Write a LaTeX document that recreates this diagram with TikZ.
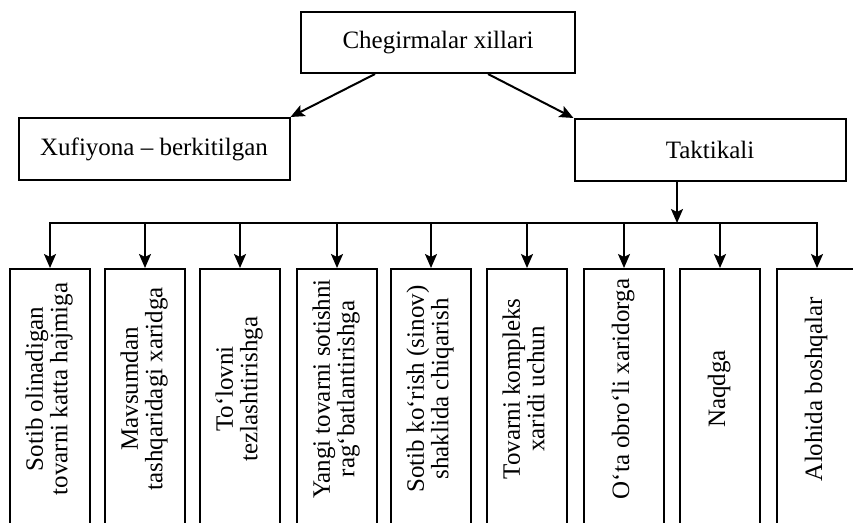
\documentclass[tikz,border=0pt]{standalone}
\usepackage{fontspec}
\setmainfont{Liberation Serif}
\usetikzlibrary{arrows.meta}
\newcommand{\rottext}[1]{\hspace*{60pt}\begin{tabular}{@{}c@{}}#1\end{tabular}}
\begin{document}
\begin{tikzpicture}[x=1pt,y=-1pt,
  txt/.style={font=\fontsize{25}{23.5}\selectfont},
  box/.style={draw, line width=2pt, txt, inner sep=0pt},
  topbox/.style={box, minimum width=274pt, minimum height=61pt},
  sidebox/.style={box, minimum width=271pt, minimum height=62pt},
  vbox/.style={draw, line width=2pt, txt, rotate=90, anchor=east,
    minimum width=300pt, minimum height=80pt, inner sep=2pt},
  conn/.style={line width=2pt},
  arr/.style={conn, -{Stealth[length=14pt,width=12pt,inset=3pt]}}]
\useasboundingbox (0,0) rectangle (853,522);
\clip (0,0) rectangle (853,522);
\fill[white] (0,0) rectangle (853,522);

\node[topbox] (top) at (438,42.5) {Chegirmalar xillari};
\node[sidebox] (xuf) at (154,149) {Xufiyona – berkitilgan};
\node[sidebox] (tak) at (710,150) {Taktikali};

\coordinate (bus) at (677,223);

\node[vbox] (b1) at (50,268) {\rottext{Sotib olinadigan\\tovarni katta hajmiga}};
\node[vbox] (b2) at (145,268) {\rottext{Mavsumdan\\tashqaridagi xaridga}};
\node[vbox] (b3) at (240,268) {\rottext{To‘lovni\\tezlashtirishga}};
\node[vbox] (b4) at (337,268) {\rottext{Yangi tovarni sotishni\\rag‘batlantirishga}};
\node[vbox] (b5) at (431,268) {\rottext{Sotib ko‘rish (sinov)\\shaklida chiqarish}};
\node[vbox] (b6) at (527,268) {\rottext{Tovarni kompleks\\xaridi uchun}};
\node[vbox] (b7) at (624,268) {\rottext{O‘ta obro‘li xaridorga}};
\node[vbox] (b8) at (720,268) {\rottext{Naqdga}};
\node[vbox] (b9) at (817,268) {\rottext{Alohida boshqalar}};

\draw[arr] ([xshift=-63pt]top.south) -- (xuf.north east);
\draw[arr] ([xshift=50pt]top.south) -- (tak.north west);
\draw[arr] (tak.south -| bus) -- (bus);
\draw[conn, line cap=rect] (b1.east |- bus) -- (b9.east |- bus);
\foreach \i in {1,...,9} \draw[arr] (b\i.east |- bus) -- (b\i.east);
\end{tikzpicture}
\end{document}
